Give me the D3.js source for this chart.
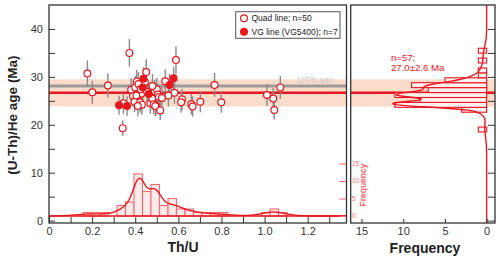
<!DOCTYPE html>
<html><head><meta charset="utf-8">
<script src="https://cdn.jsdelivr.net/npm/d3@7"></script>
<style>body{margin:0;background:#fff}svg{display:block}text{font-family:"Liberation Sans",Arial,sans-serif}</style>
</head><body><svg id="c" width="500" height="260"></svg>
<script>
// ---------- data ----------
const filledThU = [0.325,0.362,0.438,0.435,0.463,0.559,0.578];
const filledAge = [24.1,23.9,29.6,27.8,26.4,28.3,29.7];
const filledErr = [2.0,2.0,2.4,2.3,2.2,2.3,2.4];
const openThU = [0.178,0.201,0.273,0.342,0.345,0.373,0.381,0.390,0.407,0.397,0.423,0.420,0.410,0.400,0.415,0.428,0.431,0.405,0.425,0.412,0.451,0.470,0.455,0.445,0.479,0.490,0.500,0.496,0.485,0.505,0.480,0.493,0.510,0.524,0.516,0.539,0.589,0.582,0.554,0.617,0.613,0.660,0.666,0.702,0.768,0.799,1.011,1.040,1.045,1.073];
const openAge = [30.7,26.8,28.2,19.3,24.5,35.0,27.3,26.0,29.0,24.8,24.7,26.4,26.2,27.8,28.5,26.5,24.2,26.1,27.4,23.9,31.0,24.5,26.9,28.9,25.5,27.0,27.4,24.0,24.3,26.3,28.1,23.9,25.8,25.6,23.0,29.1,33.5,26.7,26.1,25.3,24.7,24.3,23.8,24.8,28.3,24.7,26.2,25.5,23.1,27.8];
const openErr = [2.7,2.4,2.5,1.6,2.2,2.9,2.4,2.3,2.5,2.2,2.2,2.3,2.3,2.4,2.5,2.3,2.1,2.3,2.4,2.1,2.7,2.2,2.4,2.5,2.3,2.4,2.4,2.1,2.1,2.3,2.5,2.1,2.3,2.3,2.0,2.5,2.9,2.3,2.3,2.2,2.2,2.1,2.1,2.2,2.5,2.2,2.3,2.2,2.0,2.4];

const thuBinWidth = 0.0394;
const thuBinStart = [0.158,0.197,0.237,0.315,0.355,0.394,0.434,0.473,0.513,0.552,0.591,0.631,0.670,0.710,0.749,0.789,0.986,1.025,1.065];
const thuBinCount = [1,1,1,3,4,12,7,9,3,5,2,2,1,1,1,1,1,2,1];

const ageBinWidth = 1.028;
const ageBinStart = [18.50,22.62,23.64,24.67,25.70,26.73,27.76,28.78,29.81,30.84,32.90,34.95];
const ageBinCount = [1,3,11,8,11,7,9,5,1,1,1,1];

const meanAge = 26.7, bandLow = 23.8, bandHigh = 29.5;
const uPbAge = 28.1;

const xTicksMajor = [0,0.2,0.4,0.6,0.8,1.0,1.2];
const xTicksMinor = [0.1,0.3,0.5,0.7,0.9,1.1,1.3];
const yTicksMajor = [0,10,20,30,40];
const yTicksMinor = [5,15,25,35];
const freqTicks = [0,5,10,15];
const insetTicks = [0,5,10,15];

const legendLabels = ["Quad line; n=50","VG line (VG5400); n=7"];
const summaryLines = ["n=57;","27.0±2.6 Ma"];

// ---------- layout ----------
const RED = "#e8171d", PINK = "#f46a6f", GREY = "#9a9a9a", BAND = "#fddccb", AX = "#333";
const L = {x0:49, x1:346.5, y0:5, y1:223};
const R = {x0:350.7, x1:495};
const svg = d3.select("#c");

const x = d3.scaleLinear().domain([0,1.38]).range([L.x0,L.x1]);
const y = d3.scaleLinear().domain([-0.5,45]).range([L.y1,L.y0]);
const yIn = d3.scaleLinear().domain([0,15]).range([216,163.5]);
const fx = d3.scaleLinear().domain([16.3,-1.0]).range([R.x0,R.x1]);

// adaptive gaussian KDE
function kde(values, h0, grid){
  const g = u => Math.exp(-0.5*u*u)/Math.sqrt(2*Math.PI);
  const pilot = values.map(a => d3.mean(values, v => g((a-v)/h0)/h0));
  const gm = Math.exp(d3.mean(pilot, Math.log));
  const hs = pilot.map(f => h0*Math.sqrt(gm/f));
  return grid.map(t => [t, d3.sum(values,(v,i)=>g((t-v)/hs[i])/hs[i])/values.length]);
}
const allThU = filledThU.concat(openThU);
const allAge = filledAge.concat(openAge);
const n = allAge.length;

// clip paths
const defs = svg.append("defs");
defs.append("clipPath").attr("id","cl").append("rect").attr("x",L.x0).attr("y",L.y0).attr("width",L.x1-L.x0).attr("height",L.y1-L.y0);
defs.append("clipPath").attr("id","cr").append("rect").attr("x",R.x0).attr("y",L.y0).attr("width",R.x1-R.x0).attr("height",L.y1-L.y0);

// ---------- left panel ----------
const gl = svg.append("g").attr("clip-path","url(#cl)");
gl.append("rect").attr("x",L.x0).attr("width",L.x1-L.x0).attr("y",y(bandHigh)).attr("height",y(bandLow)-y(bandHigh)).attr("fill",BAND);
gl.append("line").attr("x1",L.x0).attr("x2",L.x1).attr("y1",y(uPbAge)).attr("y2",y(uPbAge)).attr("stroke",GREY).attr("stroke-width",3);
gl.append("text").attr("x",333).attr("y",y(uPbAge)-2.5).attr("text-anchor","end").attr("font-size",8.5).attr("fill","#c9c9c9").text("U/Pb age");
gl.append("line").attr("x1",L.x0).attr("x2",L.x1).attr("y1",y(meanAge)).attr("y2",y(meanAge)).attr("stroke",RED).attr("stroke-width",2.5);

// inset histogram of Th/U
gl.selectAll("rect.th").data(thuBinStart).join("rect").attr("class","th")
  .attr("x",d=>x(d)).attr("width",d=>x(d+thuBinWidth)-x(d))
  .attr("y",(d,i)=>yIn(thuBinCount[i])).attr("height",(d,i)=>yIn(0)-yIn(thuBinCount[i]))
  .attr("fill","#fdeaea").attr("stroke",PINK).attr("stroke-width",1.1);
const thuGrid = d3.range(0,1.3801,0.002);
const thuK = kde(allThU,0.03,thuGrid);
gl.append("path").datum(thuK).attr("fill","none").attr("stroke",RED).attr("stroke-width",1.4)
  .attr("d",d3.line().x(d=>x(d[0])).y(d=>yIn(d[1]*n*thuBinWidth)));
gl.append("line").attr("x1",L.x0).attr("x2",L.x1).attr("y1",yIn(0)).attr("y2",yIn(0)).attr("stroke",RED).attr("stroke-width",1.4);

// error bars + points
const pts = openThU.map((v,i)=>({t:v,a:openAge[i],e:openErr[i],f:false}))
  .concat(filledThU.map((v,i)=>({t:v,a:filledAge[i],e:filledErr[i],f:true})));
gl.selectAll("line.eb").data(pts).join("line").attr("class","eb")
  .attr("x1",d=>x(d.t)).attr("x2",d=>x(d.t)).attr("y1",d=>y(d.a-d.e)).attr("y2",d=>y(d.a+d.e))
  .attr("stroke","#8a8a8a").attr("stroke-width",1.4);
gl.selectAll("circle.pt").data(pts).join("circle").attr("class","pt")
  .attr("cx",d=>x(d.t)).attr("cy",d=>y(d.a)).attr("r",3.4)
  .attr("fill",d=>d.f?RED:"#fff").attr("stroke",RED).attr("stroke-width",1.2);

// legend
const lg = svg.append("g");
lg.append("rect").attr("x",235.7).attr("y",11.7).attr("width",104.3).attr("height",26.6).attr("fill","#fff").attr("stroke","#555").attr("stroke-width",1);
[false,true].forEach((f,i)=>{
  lg.append("circle").attr("cx",244).attr("cy",18.3+i*13.4).attr("r",3.4).attr("fill",f?RED:"#fff").attr("stroke",RED).attr("stroke-width",1.2);
  lg.append("text").attr("x",251.5).attr("y",21.3+i*13.4).attr("font-size",8.5).attr("fill","#222").text(legendLabels[i]);
});

// ---------- right panel ----------
const gr = svg.append("g").attr("clip-path","url(#cr)");
gr.append("rect").attr("x",R.x0).attr("width",R.x1-R.x0).attr("y",y(bandHigh)).attr("height",y(bandLow)-y(bandHigh)).attr("fill",BAND);
gr.append("line").attr("x1",R.x0).attr("x2",R.x1).attr("y1",y(meanAge)).attr("y2",y(meanAge)).attr("stroke",RED).attr("stroke-width",2.5);
gr.selectAll("rect.ab").data(ageBinStart).join("rect").attr("class","ab")
  .attr("y",d=>y(d+ageBinWidth)).attr("height",d=>y(d)-y(d+ageBinWidth))
  .attr("x",(d,i)=>fx(ageBinCount[i])).attr("width",(d,i)=>fx(0)-fx(ageBinCount[i]))
  .attr("fill","#fff1f1").attr("stroke",RED).attr("stroke-width",1.1);
const ageGrid = d3.range(-0.5,45.01,0.05);
const ageK = kde(allAge,0.6,ageGrid);
gr.append("path").datum(ageK).attr("fill","none").attr("stroke",RED).attr("stroke-width",1.4)
  .attr("d",d3.line().x(d=>fx(d[1]*n*ageBinWidth)).y(d=>y(d[0])));
svg.selectAll("text.sum").data(summaryLines).join("text").attr("class","sum")
  .attr("x",391).attr("y",(d,i)=>60.5+i*10.8).attr("font-size",9.6).attr("fill",RED).text(d=>d);

// ---------- axes ----------
function styleAxis(g){ g.select(".domain").remove(); g.selectAll("line").attr("stroke",AX).attr("stroke-width",1); g.selectAll("text").attr("fill",AX).attr("font-size",11).attr("font-family","Liberation Sans, Arial, sans-serif"); }
svg.append("g").attr("transform",`translate(0,${L.y1})`).call(d3.axisBottom(x).tickValues(xTicksMajor).tickSize(-6).tickPadding(4).tickFormat(d=>d===0?"0":d3.format(".1f")(d))).call(styleAxis);
svg.append("g").attr("transform",`translate(0,${L.y1})`).call(d3.axisBottom(x).tickValues(xTicksMinor).tickSize(-6).tickFormat("")).call(styleAxis);
svg.append("g").attr("transform",`translate(${L.x0},0)`).call(d3.axisLeft(y).tickValues(yTicksMajor).tickSize(-6).tickPadding(6)).call(styleAxis);
svg.append("g").attr("transform",`translate(${L.x0},0)`).call(d3.axisLeft(y).tickValues(yTicksMinor).tickSize(-6).tickFormat("")).call(styleAxis);
svg.append("g").attr("transform",`translate(0,${L.y1})`).call(d3.axisBottom(fx).tickValues(freqTicks).tickSize(-4).tickPadding(4)).call(styleAxis);
svg.append("g").attr("transform",`translate(${R.x1},0)`).call(d3.axisRight(y).tickValues(yTicksMajor.concat(yTicksMinor)).tickSize(-7).tickFormat("")).call(styleAxis);
// inset frequency axis
const ia = svg.append("g").attr("transform",`translate(${L.x1},0)`).call(d3.axisLeft(yIn).tickValues(insetTicks).tickSize(7).tickFormat(""));
ia.select(".domain").remove(); ia.selectAll("line").attr("stroke",PINK).attr("stroke-width",1.1).attr("x2",-7);
svg.selectAll("text.it").data(insetTicks).join("text").attr("class","it")
  .attr("x",352).attr("y",d=>yIn(d)+2.2).attr("font-size",6.5).attr("fill",PINK).text(d=>d);
svg.append("text").attr("transform","translate(366,185) rotate(-90)").attr("text-anchor","middle")
  .attr("font-size",8.5).attr("font-weight","bold").attr("fill",PINK).text("Frequency");

// frames
[[L.x0,L.x1],[R.x0,R.x1]].forEach(([a,b])=>svg.append("rect").attr("x",a).attr("y",L.y0).attr("width",b-a).attr("height",L.y1-L.y0).attr("fill","none").attr("stroke",AX).attr("stroke-width",1.3));

// axis titles
svg.append("text").attr("x",183).attr("y",252).attr("text-anchor","middle").attr("font-size",14).attr("font-weight","bold").attr("fill","#222").text("Th/U");
svg.append("text").attr("x",425).attr("y",253).attr("text-anchor","middle").attr("font-size",14).attr("font-weight","bold").attr("fill","#222").text("Frequency");
svg.append("text").attr("transform","translate(17,115) rotate(-90)").attr("text-anchor","middle").attr("font-size",13.5).attr("font-weight","bold").attr("fill","#222").text("(U-Th)/He age (Ma)");
</script></body></html>
